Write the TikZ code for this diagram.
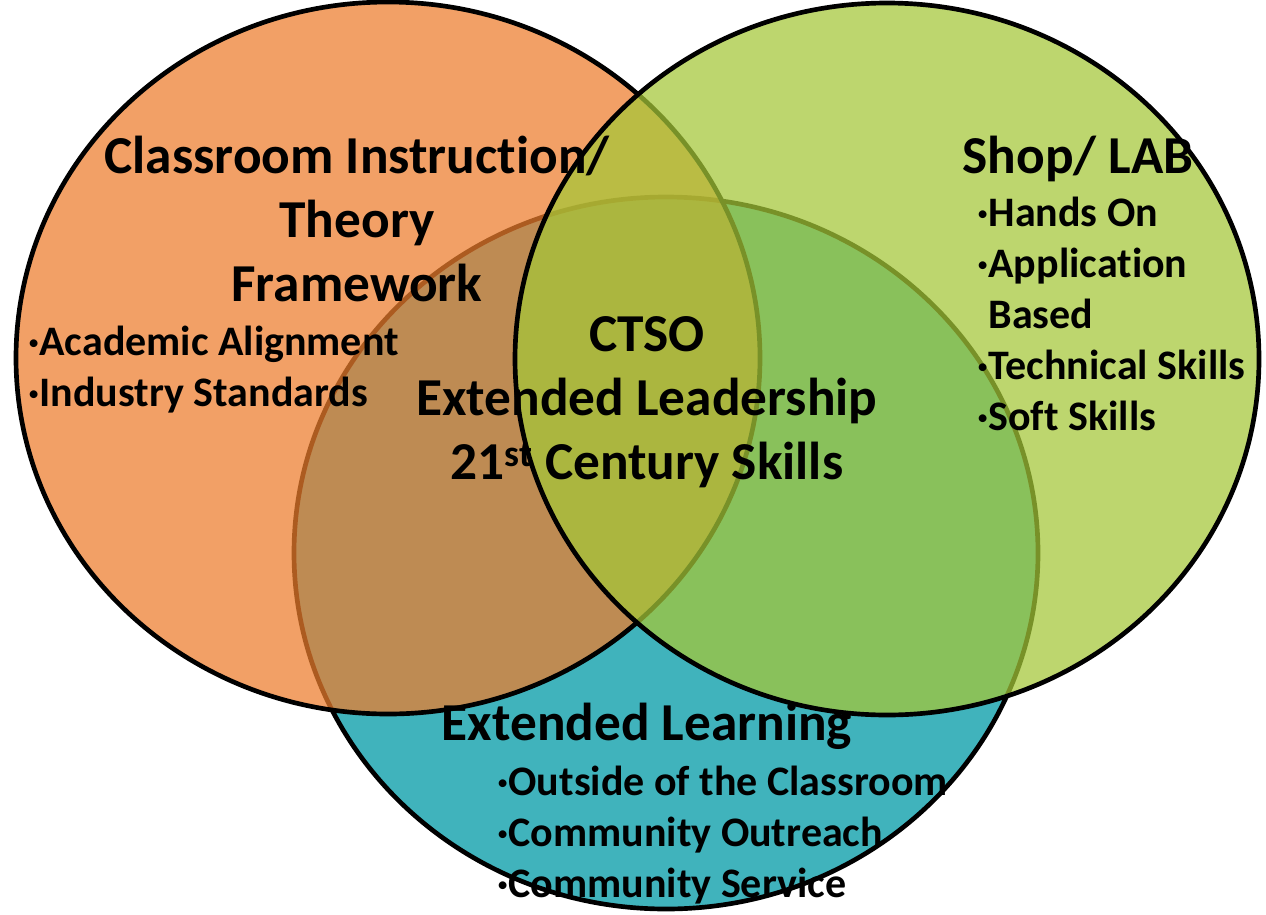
\documentclass[tikz,border=0pt]{standalone}
\usepackage{fontspec}
\setmainfont{Carlito}[Ligatures=NoCommon]
\definecolor{setorange}{RGB}{237,125,45}
\definecolor{setgreen}{RGB}{165,199,56}
\definecolor{setteal}{RGB}{64,179,188}

\begin{document}
\begin{tikzpicture}[x=0.75pt, y=-0.75pt,
  venn/.style={draw=black, line width=3.5pt, fill opacity=0.73},
  bigtext/.style={font=\bfseries\fontsize{40}{48}\selectfont, align=center, inner sep=0pt},
  smalltext/.style={font=\bfseries\fontsize{31.5}{38.25}\selectfont, align=left, inner sep=0pt}]
  \useasboundingbox (0,0) rectangle (1266,914);
  % teal set first, the other two sit over it
  \draw[draw=black, line width=3.5pt, fill=setteal] (666,553) ellipse [x radius=279pt, y radius=267pt];
  \draw[venn, fill=setorange] (388,358) ellipse [x radius=279pt, y radius=267pt];
  \draw[venn, fill=setgreen] (887,359) ellipse [x radius=279pt, y radius=267pt];

  % anchor=base sits on the last line
  \node[bigtext, anchor=base] (classroom) at (357,301) {Classroom Instruction/\\Theory\\Framework};
  \node[smalltext, anchor=base west] (classlist) at (28,406) {·Academic Alignment\\·Industry Standards};

  \node[bigtext, anchor=base] (shop) at (1078,173) {Shop/ LAB};
  \node[smalltext, anchor=base west] (shoplist) at (977,430) {·Hands On\\·Application\\\phantom{·}Based\\·Technical Skills\\·Soft Skills};

  \node[bigtext, anchor=base] (ctso) at (647,479) {CTSO\\Extended Leadership\\21\textsuperscript{st} Century Skills};

  \node[bigtext, anchor=base] (extended) at (647,740) {Extended Learning};
  \node[smalltext, anchor=base west] (extlist) at (497,897) {·Outside of the Classroom\\·Community Outreach\\·Community Service};
\end{tikzpicture}
\end{document}
